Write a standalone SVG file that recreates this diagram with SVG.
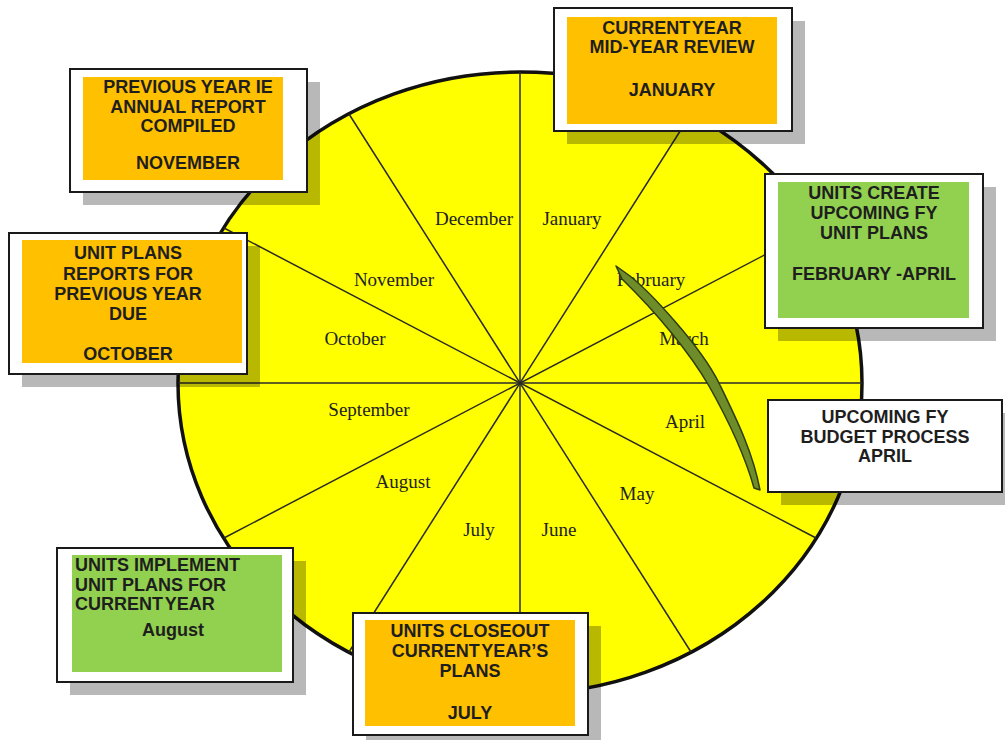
<svg xmlns="http://www.w3.org/2000/svg" width="1005" height="740" viewBox="0 0 1005 740">
<style>
.spoke{stroke:#2a2a2a;stroke-width:1.5;fill:none}
.month{font-family:"Liberation Serif","Times New Roman",serif;font-size:19px;fill:#222;text-anchor:middle}
.shadow{fill:#000;opacity:0.28}
.outer{fill:#fff;stroke:#1a1a1a;stroke-width:2}
.orange{fill:#FFC000}
.green{fill:#92D050}
.lbl{font-family:"Liberation Sans",Arial,sans-serif;font-weight:bold;font-size:18px;fill:#1e1e1e;text-anchor:middle}
.lft{text-anchor:start}
</style>
<rect x="0" y="0" width="1005" height="740" fill="#fff"/>
<g id="wheel">
<ellipse cx="520" cy="383" rx="342" ry="311" fill="#FFFF00" stroke="#111" stroke-width="3.5"/>
</g>
<g id="connectors">
<line class="spoke" x1="520" y1="72" x2="520" y2="694"/>
<line class="spoke" x1="178" y1="383" x2="862" y2="383"/>
<line class="spoke" x1="349" y1="114" x2="691" y2="652"/>
<line class="spoke" x1="691" y1="114" x2="349" y2="652"/>
<line class="spoke" x1="224" y1="228" x2="816" y2="538"/>
<line class="spoke" x1="816" y1="228" x2="224" y2="538"/>
</g>
<g id="months">
<text class="month" x="474" y="225">December</text>
<text class="month" x="572" y="225">January</text>
<text class="month" x="651" y="286">February</text>
<text class="month" x="684" y="345">March</text>
<text class="month" x="685" y="428">April</text>
<text class="month" x="637" y="500">May</text>
<text class="month" x="559" y="536">June</text>
<text class="month" x="479" y="536">July</text>
<text class="month" x="403" y="488">August</text>
<text class="month" x="369" y="416">September</text>
<text class="month" x="355" y="345">October</text>
<text class="month" x="394" y="286">November</text>
</g>
<g id="arrow">
<path d="M616,266 L630,276 C650,292 700,345 719,383 C736,418 753,452 760,490 L754,488 C745,456 731,425 709,386 C690,353 656,312 622,279 Z" fill="#6f8c2a" stroke="#2e3d0c" stroke-width="1.5" stroke-linejoin="round"/>
</g>
<g id="box-november">
<rect class="shadow" x="83" y="82" width="237" height="123"/>
<rect class="outer" x="70" y="69" width="237" height="123"/>
<rect class="orange" x="83" y="77" width="200" height="103"/>
<text class="lbl" x="188" y="93">PREVIOUS YEAR IE</text>
<text class="lbl" x="188" y="112.5">ANNUAL REPORT</text>
<text class="lbl" x="188" y="132">COMPILED</text>
<text class="lbl" x="188" y="169">NOVEMBER</text>
</g>
<g id="box-january">
<rect class="shadow" x="567" y="21" width="238" height="123"/>
<rect class="outer" x="554" y="8" width="238" height="123"/>
<rect class="orange" x="567" y="17" width="210" height="107"/>
<text class="lbl" x="672" y="33.5" word-spacing="-3">CURRENT YEAR</text>
<text class="lbl" x="672" y="53">MID-YEAR REVIEW</text>
<text class="lbl" x="672" y="96">JANUARY</text>
</g>
<g id="box-february-april">
<rect class="shadow" x="778" y="187" width="218" height="154"/>
<rect class="outer" x="765" y="174" width="218" height="154"/>
<rect class="green" x="778" y="182" width="191" height="136"/>
<text class="lbl" x="874" y="198.5">UNITS CREATE</text>
<text class="lbl" x="874" y="219">UPCOMING FY</text>
<text class="lbl" x="874" y="239">UNIT PLANS</text>
<text class="lbl" x="874" y="280">FEBRUARY -APRIL</text>
</g>
<g id="box-october">
<rect class="shadow" x="22" y="246" width="238" height="141"/>
<rect class="outer" x="9" y="233" width="238" height="141"/>
<rect class="orange" x="22" y="240" width="220" height="123"/>
<text class="lbl" x="128" y="259">UNIT PLANS</text>
<text class="lbl" x="128" y="279.5">REPORTS FOR</text>
<text class="lbl" x="128" y="299.5">PREVIOUS YEAR</text>
<text class="lbl" x="128" y="319.5">DUE</text>
<text class="lbl" x="128" y="360">OCTOBER</text>
</g>
<g id="box-april">
<rect class="shadow" x="781" y="413" width="234" height="92"/>
<rect class="outer" x="768" y="400" width="234" height="92"/>
<text class="lbl" x="885" y="423">UPCOMING FY</text>
<text class="lbl" x="885" y="442.5">BUDGET PROCESS</text>
<text class="lbl" x="885" y="462">APRIL</text>
</g>
<g id="box-august">
<rect class="shadow" x="70" y="561" width="236" height="134"/>
<rect class="outer" x="57" y="548" width="236" height="134"/>
<rect class="green" x="72" y="555" width="210" height="117"/>
<text class="lbl lft" x="75" y="571">UNITS IMPLEMENT</text>
<text class="lbl lft" x="75" y="590.5">UNIT PLANS FOR</text>
<text class="lbl lft" x="75" y="610" word-spacing="-3">CURRENT YEAR</text>
<text class="lbl" x="173" y="636" font-size="22">August</text>
</g>
<g id="box-july">
<rect class="shadow" x="366" y="626" width="235" height="122"/>
<rect class="outer" x="353" y="613" width="235" height="122"/>
<rect class="orange" x="365" y="620" width="210" height="106"/>
<text class="lbl" x="470" y="637">UNITS CLOSEOUT</text>
<text class="lbl" x="470" y="657" word-spacing="-3">CURRENT YEAR’S</text>
<text class="lbl" x="470" y="677">PLANS</text>
<text class="lbl" x="470" y="718.5">JULY</text>
</g>
</svg>
